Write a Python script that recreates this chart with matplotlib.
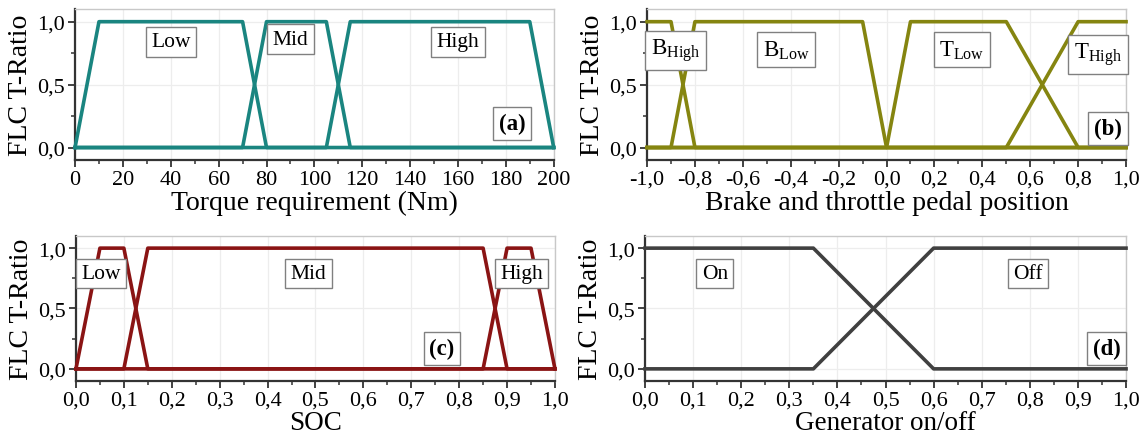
import matplotlib
matplotlib.use("Agg")
import matplotlib.pyplot as plt
from matplotlib.ticker import MultipleLocator, FuncFormatter

plt.rcParams['font.family'] = ['Liberation Serif', 'DejaVu Serif']
plt.rcParams['mathtext.fontset'] = 'custom'
plt.rcParams['mathtext.rm'] = 'Liberation Serif'

# (a) torque requirement
torque_low_x = [0, 10, 70, 80, 200]
torque_low_y = [0, 1, 1, 0, 0]
torque_mid_x = [0, 70, 80, 105, 115, 200]
torque_mid_y = [0, 0, 1, 1, 0, 0]
torque_high_x = [0, 105, 115, 190, 200]
torque_high_y = [0, 0, 1, 1, 0]

# (b) brake / throttle pedal
bhigh_x = [-1.0, -0.9, -0.8, 1.0]
bhigh_y = [1, 1, 0, 0]
blow_x = [-1.0, -0.9, -0.8, -0.1, 0.0, 1.0]
blow_y = [0, 0, 1, 1, 0, 0]
tlow_x = [-1.0, 0.0, 0.1, 0.5, 0.8, 1.0]
tlow_y = [0, 0, 1, 1, 0, 0]
thigh_x = [-1.0, 0.5, 0.8, 1.0]
thigh_y = [0, 0, 1, 1]

# (c) SOC
soc_low_x = [0, 0.05, 0.1, 0.15, 1.0]
soc_low_y = [0, 1, 1, 0, 0]
soc_mid_x = [0, 0.1, 0.15, 0.85, 0.9, 1.0]
soc_mid_y = [0, 0, 1, 1, 0, 0]
soc_high_x = [0, 0.85, 0.9, 0.95, 1.0]
soc_high_y = [0, 0, 1, 1, 0]

# (d) generator
gen_x = [0, 0.35, 0.6, 1.0]
gen_on_y = [1, 1, 0, 0]
gen_off_y = [0, 0, 1, 1]


def comma(v, pos):
    return ('%.1f' % v).replace('.', ',')


def style_axes(ax, xlim, xmajor, xminor, xlabel, fmt_x, pad=1, xl_size=20):
    ax.set_xlim(*xlim)
    ax.set_ylim(-0.1, 1.1)
    ax.xaxis.set_major_locator(MultipleLocator(xmajor))
    ax.xaxis.set_minor_locator(MultipleLocator(xminor))
    ax.yaxis.set_major_locator(MultipleLocator(0.5))
    ax.yaxis.set_minor_locator(MultipleLocator(0.25))
    ax.yaxis.set_major_formatter(FuncFormatter(comma))
    if fmt_x:
        ax.xaxis.set_major_formatter(FuncFormatter(comma))
    ax.grid(True, which='major', color='#ededed', lw=0.9, zorder=0)
    ax.set_axisbelow(True)
    for side in ['top', 'right']:
        ax.spines[side].set_color('#c8c8c8')
        ax.spines[side].set_linewidth(1.0)
    for side in ['left', 'bottom']:
        ax.spines[side].set_color('#333333')
        ax.spines[side].set_linewidth(1.6)
    ax.tick_params(which='major', direction='out', length=5, width=1.3,
                   labelsize=16, pad=2, color='#333333')
    ax.tick_params(which='minor', direction='out', length=3, width=1.1,
                   color='#333333')
    ax.set_xlabel(xlabel, fontsize=xl_size, labelpad=pad)
    ax.set_ylabel('FLC T-Ratio', fontsize=20, labelpad=3)


def label(ax, x, y, text, size=15.5, bold=False):
    ax.text(x, y, text, ha='center', va='center', fontsize=size,
            fontweight='bold' if bold else 'normal', zorder=5,
            bbox=dict(boxstyle='square,pad=0.25', fc='white', ec='#808080', lw=1.0))


fig = plt.figure(figsize=(11.44, 4.39), dpi=100)
ax_a = fig.add_axes([0.0656, 0.633, 0.4184, 0.344])
ax_b = fig.add_axes([0.5656, 0.633, 0.4187, 0.344])
ax_c = fig.add_axes([0.0664, 0.130, 0.4187, 0.330])
ax_d = fig.add_axes([0.5638, 0.130, 0.4205, 0.330])

lw = 2.6
teal = '#1a8580'
olive = '#858510'
wine = '#8a1414'
gray = '#404040'

ax_a.plot(torque_low_x, torque_low_y, color=teal, lw=lw, clip_on=False, zorder=3)
ax_a.plot(torque_mid_x, torque_mid_y, color=teal, lw=lw, clip_on=False, zorder=3)
ax_a.plot(torque_high_x, torque_high_y, color=teal, lw=lw, clip_on=False, zorder=3)
style_axes(ax_a, (0, 200), 20, 10, 'Torque requirement (Nm)', False)
label(ax_a, 40, 0.84, 'Low')
label(ax_a, 90, 0.86, 'Mid')
label(ax_a, 160, 0.84, 'High')
label(ax_a, 182.5, 0.19, '(a)', size=16.5, bold=True)

ax_b.plot(bhigh_x, bhigh_y, color=olive, lw=lw, clip_on=False, zorder=3)
ax_b.plot(blow_x, blow_y, color=olive, lw=lw, clip_on=False, zorder=3)
ax_b.plot(tlow_x, tlow_y, color=olive, lw=lw, clip_on=False, zorder=3)
ax_b.plot(thigh_x, thigh_y, color=olive, lw=lw, clip_on=False, zorder=3)
style_axes(ax_b, (-1.0, 1.0), 0.2, 0.1, 'Brake and throttle pedal position', True)
label(ax_b, -0.88, 0.77, r'$\mathrm{B}_{\mathrm{High}}$', size=16.5)
label(ax_b, -0.42, 0.78, r'$\mathrm{B}_{\mathrm{Low}}$', size=16.5)
label(ax_b, 0.315, 0.78, r'$\mathrm{T}_{\mathrm{Low}}$', size=16.5)
label(ax_b, 0.883, 0.74, r'$\mathrm{T}_{\mathrm{High}}$', size=16.5)
label(ax_b, 0.925, 0.15, '(b)', size=16.5, bold=True)

ax_c.plot(soc_low_x, soc_low_y, color=wine, lw=lw, clip_on=False, zorder=3)
ax_c.plot(soc_mid_x, soc_mid_y, color=wine, lw=lw, clip_on=False, zorder=3)
ax_c.plot(soc_high_x, soc_high_y, color=wine, lw=lw, clip_on=False, zorder=3)
style_axes(ax_c, (0, 1.0), 0.1, 0.05, 'SOC', True, pad=0, xl_size=19.5)
label(ax_c, 0.052, 0.79, 'Low')
label(ax_c, 0.486, 0.79, 'Mid')
label(ax_c, 0.93, 0.79, 'High')
label(ax_c, 0.764, 0.17, '(c)', size=16.5, bold=True)

ax_d.plot(gen_x, gen_on_y, color=gray, lw=lw, clip_on=False, zorder=3)
ax_d.plot(gen_x, gen_off_y, color=gray, lw=lw, clip_on=False, zorder=3)
style_axes(ax_d, (0, 1.0), 0.1, 0.05, 'Generator on/off', True, pad=0, xl_size=19.5)
label(ax_d, 0.145, 0.79, 'On')
label(ax_d, 0.796, 0.79, 'Off')
label(ax_d, 0.96, 0.17, '(d)', size=16.5, bold=True)

fig.savefig('out.png', dpi=100)
